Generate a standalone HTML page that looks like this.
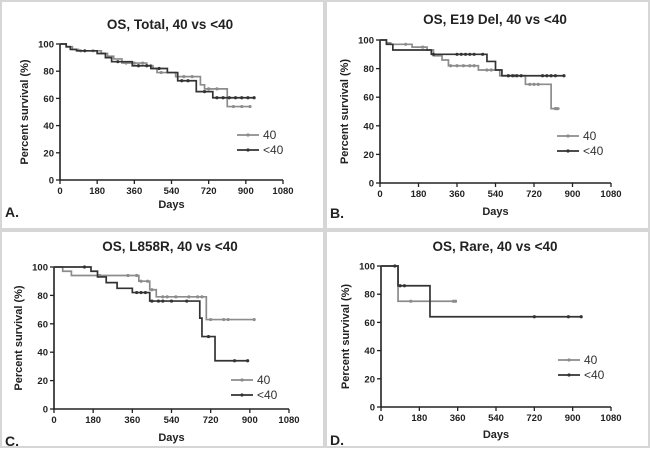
<!DOCTYPE html>
<html><head><meta charset="utf-8">
<style>
html,body{margin:0;padding:0;background:#fff;}
svg{display:block;font-family:"Liberation Sans",Arial,sans-serif;}
</style></head>
<body>
<svg id="fig" width="650" height="463" viewBox="0 0 650 463">
<rect x="0" y="0" width="650" height="463" fill="#fff"/>
<rect x="1" y="1" width="323" height="228" fill="none" stroke="#d6d6d6" stroke-width="2"/>
<rect x="326" y="1" width="323" height="228" fill="none" stroke="#d6d6d6" stroke-width="2"/>
<rect x="1" y="231" width="323" height="216" fill="none" stroke="#d6d6d6" stroke-width="2"/>
<rect x="326" y="231" width="323" height="216" fill="none" stroke="#d6d6d6" stroke-width="2"/>
</svg>
<script>
// x-axis ticks and y-axis ticks
const xTicks = [0,180,360,540,720,900,1080];
const yTicks = [0,20,40,60,80,100];
const legendLabels = ["40","<40"];
const panelTitles = ["OS, Total, 40 vs <40","OS, E19 Del, 40 vs <40","OS, L858R, 40 vs <40","OS, Rare, 40 vs <40"];
const panelLetters = ["A.","B.","C.","D."];

// Panel A
const aOldT = [0,30,60,90,200,230,260,300,420,450,470,560,680,700,810];
const aOldS = [100,98,96,95,93,91,89,86,84,82,79,76,70,67,54];
const aOldEnd = 920;
const aOldCens = [100,160,320,360,400,440,490,600,640,720,760,840,880,920];
const aYngT = [0,30,50,80,180,220,250,350,440,520,570,660,740];
const aYngS = [100,98,96,95,93,90,87,84,82,79,73,65,60.5];
const aYngEnd = 940;
const aYngCens = [120,280,380,420,480,590,620,700,760,790,820,850,880,910,940];
// Panel B
const bOldT = [0,30,50,150,220,250,290,320,460,560,680,800];
const bOldS = [100,98,97,95,93,89,86,82,79,75,69,52];
const bOldEnd = 840;
const bOldCens = [120,200,330,360,390,420,440,500,520,600,630,700,720,740,820,830];
const bYngT = [0,30,60,240,500,540,570];
const bYngS = [100,97,93,90,85,79,75];
const bYngEnd = 860;
const bYngCens = [250,360,380,400,420,440,480,600,620,640,660,760,780,800,820,860];
// Panel C
const cOldT = [0,40,80,390,440,470,700];
const cOldS = [100,97,94,90,84,79,63];
const cOldEnd = 920;
const cOldCens = [210,340,380,400,430,450,500,520,560,620,660,680,720,780,800,920];
const cYngT = [0,170,200,240,290,360,440,670,680,740];
const cYngS = [100,97,93,89,85,82,76,64,51,34];
const cYngEnd = 890;
const cYngCens = [140,380,400,420,450,480,500,540,610,710,830,890];
// Panel D
const dOldT = [0,80];
const dOldS = [100,75];
const dOldEnd = 350;
const dOldCens = [140,340,350];
const dYngT = [0,80,230];
const dYngS = [100,86,64];
const dYngEnd = 940;
const dYngCens = [65,90,110,720,880,940];

const NS = "http://www.w3.org/2000/svg";
const svg = document.getElementById("fig");
function mk(tag, attrs, parent){
  const e = document.createElementNS(NS, tag);
  for (const k in attrs) e.setAttribute(k, attrs[k]);
  (parent||svg).appendChild(e);
  return e;
}
const layout = [
  {x0:60,x1:283,y0:180,y1:44,tx:170,ty:29,dy:208,lx:5,ly:217,legY:135},
  {x0:380,x1:611,y0:183,y1:40,tx:495,ty:24,dy:215,lx:330,ly:218,legY:136},
  {x0:54,x1:289,y0:409,y1:267,tx:170,ty:251,dy:441,lx:5,ly:446,legY:380},
  {x0:381,x1:611,y0:407,y1:266,tx:495,ty:251,dy:438,lx:330,ly:445,legY:360}
];
const data = [
  [[aOldT,aOldS,aOldEnd,aOldCens],[aYngT,aYngS,aYngEnd,aYngCens]],
  [[bOldT,bOldS,bOldEnd,bOldCens],[bYngT,bYngS,bYngEnd,bYngCens]],
  [[cOldT,cOldS,cOldEnd,cOldCens],[cYngT,cYngS,cYngEnd,cYngCens]],
  [[dOldT,dOldS,dOldEnd,dOldCens],[dYngT,dYngS,dYngEnd,dYngCens]]
];
const colors = ["#8c8c8c","#333333"];
const ids = ["a","b","c","d"];

layout.forEach((L, p) => {
  const g = mk("g", {});
  
  
  const sx = v => L.x0 + (L.x1 - L.x0) * v / 1080;
  const sy = v => L.y0 + (L.y1 - L.y0) * v / 100;
  const title = mk("text", {x:L.tx, y:L.ty, "text-anchor":"middle", "font-size":"13.5", "font-weight":"bold", fill:"#222"}, g);
  title.textContent = panelTitles[p];
  
  
  const ax = mk("path", {d:`M${L.x0},${sy(100)} V${L.y0} H${L.x1}`, stroke:"#222", "stroke-width":"1.6", fill:"none"}, g);
  
  
  xTicks.forEach(t => {
    mk("line", {x1:sx(t), x2:sx(t), y1:L.y0, y2:L.y0+4, stroke:"#222", "stroke-width":"1.3"}, g);
    const tl = mk("text", {x:sx(t), y:L.y0+14, "text-anchor":"middle", "font-size":"9.5", "font-weight":"bold", fill:"#222"}, g);
    tl.textContent = t;
    
    
  });
  yTicks.forEach(t => {
    mk("line", {x1:L.x0-4, x2:L.x0, y1:sy(t), y2:sy(t), stroke:"#222", "stroke-width":"1.3"}, g);
    const tl = mk("text", {x:L.x0-6, y:sy(t)+3.5, "text-anchor":"end", "font-size":"9.5", "font-weight":"bold", fill:"#222"}, g);
    tl.textContent = t;
    
    
  });
  const yt = mk("text", {x:0, y:0, transform:`translate(${L.x0-32},${(L.y0+sy(100))/2}) rotate(-90)`, "text-anchor":"middle", "font-size":"11", "font-weight":"bold", fill:"#222"}, g);
  yt.textContent = "Percent survival (%)";
  
  
  const xt = mk("text", {x:(L.x0+L.x1)/2, y:L.dy, "text-anchor":"middle", "font-size":"11", "font-weight":"bold", fill:"#222"}, g);
  xt.textContent = "Days";
  
  
  const lt = mk("text", {x:L.lx, y:L.ly, "font-size":"14", "font-weight":"bold", fill:"#222"}, g);
  lt.textContent = panelLetters[p];
  
  
  data[p].forEach((s, i) => {
    const [T, S, end, cens] = s;
    let d = `M${sx(T[0])},${sy(S[0])}`;
    for (let k = 1; k < T.length; k++) d += ` H${sx(T[k])} V${sy(S[k])}`;
    d += ` H${sx(end)}`;
    const path = mk("path", {d, stroke:colors[i], "stroke-width":"1.7", fill:"none"}, g);
    
    
    cens.forEach(c => {
      let k = 0;
      while (k + 1 < T.length && T[k + 1] <= c) k++;
      const m = mk("circle", {cx:sx(c), cy:sy(S[k]), r:1.6, fill:colors[i]}, g);
      
      
    });
    const ly = L.legY + i * 15;
    const lx = L.x0 + 177;
    const ll = mk("line", {x1:lx, x2:lx+22, y1:ly, y2:ly, stroke:colors[i], "stroke-width":"1.7"}, g);
    
    
    mk("circle", {cx:lx+11, cy:ly, r:1.6, fill:colors[i]}, g);
    const lt2 = mk("text", {x:lx+26, y:ly+4, "font-size":"12", fill:"#333"}, g);
    lt2.textContent = legendLabels[i];
    
    
  });
});
</script>
</body></html>
